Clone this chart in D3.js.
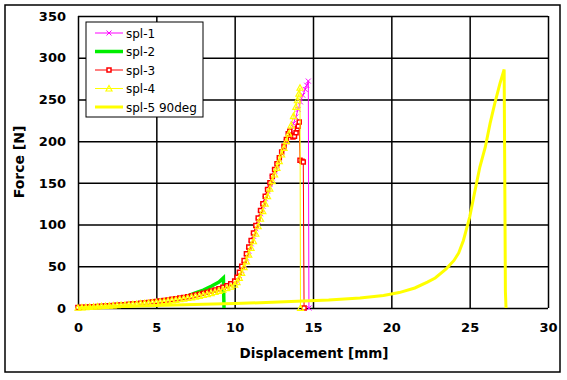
<!DOCTYPE html>
<html>
<head>
<meta charset="utf-8">
<script src="https://cdn.jsdelivr.net/npm/d3@7/dist/d3.min.js"></script>
<style>
  body { margin: 0; background: #fff; }
  svg { display: block; }
</style>
</head>
<body>
<script>
// tick values
var xTicks = [0, 5, 10, 15, 20, 25, 30];
var yTicks = [0, 50, 100, 150, 200, 250, 300, 350];

// series: [displacement mm, force N]
var spl1 = [[0,0.2],[0.25,0.5],[0.5,0.8],[0.75,1.1],[1,1.4],[1.25,1.7],[1.5,2],[1.75,2.3],[2,2.6],[2.25,2.9],
  [2.5,3.2],[2.75,3.5],[3,3.8],[3.25,4.1],[3.5,4.5],[3.75,4.9],[4,5.3],[4.25,5.7],[4.5,6.2],[4.75,6.7],
  [5,7.2],[5.25,7.7],[5.5,8.3],[5.75,8.9],[6,9.5],[6.25,10.2],[6.5,10.9],[6.75,11.7],[7,12.5],[7.25,13.4],
  [7.5,14.3],[7.75,15.3],[8,16.4],[8.25,17.6],[8.5,18.9],[8.75,20.3],[9,21.8],[9.25,23.5],[9.5,25.4],[9.75,27.6],
  [10,30.5],[10.15,34],[10.3,39],[10.45,45],[10.6,52],[10.75,60],[10.9,68],[11.05,77],[11.2,86],[11.35,95],
  [11.5,104],[11.65,113],[11.8,122],[11.95,131],[12.1,140],[12.25,148],[12.4,156],[12.55,164],[12.7,171],[12.85,178],
  [13,185],[13.15,192],[13.3,199],[13.45,206],[13.6,213],[13.75,221],[13.9,229],[14.05,238],[14.2,247],[14.35,255],
  [14.5,262],[14.6,267],[14.7,272],[14.74,0]];

var spl2 = [[0,0.5],[1,1.5],[2,2.5],[3,4],[4,5.5],[5,8.5],[6,10.5],[6.5,11.8],[7,14.5],[7.5,18],
  [8,21.5],[8.5,26],[9,31],[9.28,36],[9.32,0]];

var spl3 = [[0,0.5],[0.25,0.8],[0.5,1],[0.75,1.3],[1,1.6],[1.25,1.9],[1.5,2.2],[1.75,2.5],[2,2.8],[2.25,3.1],
  [2.5,3.4],[2.75,3.7],[3,4],[3.25,4.4],[3.5,4.8],[3.75,5.2],[4,5.7],[4.25,6.1],[4.5,6.6],[4.75,7.1],
  [5,7.7],[5.25,8.3],[5.5,9],[5.75,9.7],[6,10.4],[6.25,11.1],[6.5,11.9],[6.75,12.7],[7,13.6],[7.25,14.5],
  [7.5,15.5],[7.75,16.6],[8,17.8],[8.25,19],[8.5,20.3],[8.75,21.7],[9,23.2],[9.25,24.9],[9.5,26.8],[9.75,29.2],
  [10,32.5],[10.15,37],[10.3,43],[10.45,50],[10.6,57],[10.75,65],[10.9,73],[11.05,81],[11.2,90],[11.35,99],
  [11.5,108],[11.65,117],[11.8,125],[11.95,134],[12.1,142],[12.25,150],[12.4,158],[12.55,166],[12.7,173],[12.85,180],
  [13,187],[13.15,194],[13.3,202],[13.42,209],[13.52,212],[13.62,207],[13.72,205],[13.82,206],[13.92,210],[14,215],
  [14.06,218],[14.12,223],[14.17,177],[14.3,176],[14.38,175],[14.43,0]];

var spl4 = [[0,0.3],[0.25,0.6],[0.5,0.9],[0.75,1.2],[1,1.5],[1.25,1.8],[1.5,2.1],[1.75,2.4],[2,2.7],[2.25,3],
  [2.5,3.3],[2.75,3.6],[3,3.9],[3.25,4.2],[3.5,4.5],[3.75,4.9],[4,5.3],[4.25,5.7],[4.5,6.1],[4.75,6.5],
  [5,7],[5.25,7.5],[5.5,8],[5.75,8.6],[6,9.2],[6.25,9.8],[6.5,10.5],[6.75,11.2],[7,12],[7.25,12.8],
  [7.5,13.7],[7.75,14.6],[8,15.6],[8.25,16.7],[8.5,17.9],[8.75,19.2],[9,20.6],[9.25,22.1],[9.5,23.8],[9.75,25.6],
  [10,28],[10.15,31],[10.3,36],[10.45,42],[10.6,49],[10.75,56],[10.9,64],[11.05,72],[11.2,80],[11.35,89],
  [11.5,98],[11.65,107],[11.8,116],[11.95,125],[12.1,134],[12.25,143],[12.4,152],[12.55,160],[12.7,168],[12.85,176],
  [13,184],[13.15,192],[13.3,200],[13.45,209],[13.6,219],[13.75,230],[13.9,241],[14,249],[14.1,257],[14.17,264],
  [14.2,0]];

var spl5 = [[0,0],[2,1.5],[5,3],[8,4.5],[10,5.5],[12,6.5],[14,8],[16,9.5],[18,12],[19.5,15],
  [20.5,18.5],[21.5,24],[22.3,31],[22.8,36],[23.5,47],[24,57],[24.3,66],[24.6,81],[25,109],[25.3,137],
  [25.65,169],[26,193],[26.3,221],[26.6,245],[26.93,269],[27.2,286],[27.24,160],[27.28,20],[27.32,0]];

var seriesNames = ["spl-1", "spl-2", "spl-3", "spl-4", "spl-5 90deg"];

var width = 567, height = 380;
var svg = d3.select("body").append("svg")
  .attr("width", width).attr("height", height);

svg.append("rect").attr("width", width).attr("height", height).attr("fill", "#fff");
// outer frame
svg.append("rect").attr("x", 5).attr("y", 5).attr("width", 555).attr("height", 367)
  .attr("fill", "none").attr("stroke", "#000").attr("stroke-width", 1.5);

var x = d3.scaleLinear().domain([0, 30]).range([78, 548]);
var y = d3.scaleLinear().domain([0, 350]).range([308, 16]);

// grid + labels
var yAxis = svg.append("g").attr("transform", "translate(" + x(0) + ",0)")
  .call(d3.axisLeft(y).tickValues(yTicks).tickSize(-(x(30) - x(0))).tickPadding(12).tickSizeOuter(0));
var xAxis = svg.append("g").attr("transform", "translate(0," + y(0) + ")")
  .call(d3.axisBottom(x).tickValues(xTicks).tickSize(-(y(0) - y(350))).tickPadding(15).tickSizeOuter(0));

[xAxis, yAxis].forEach(function(a) {
  a.select(".domain").remove();
  a.selectAll(".tick line").attr("stroke", "#000").attr("stroke-width", 1.5);
  a.selectAll(".tick text").attr("fill", "#000")
    .style("font-family", "'DejaVu Sans', sans-serif").style("font-size", "13px").style("font-weight", "bold");
});

svg.append("text").attr("x", 314).attr("y", 358).attr("text-anchor", "middle")
  .style("font-family", "'DejaVu Sans', sans-serif").style("font-size", "13.5px").style("font-weight", "bold")
  .text("Displacement [mm]");
svg.append("text").attr("transform", "translate(24,162) rotate(-90)").attr("text-anchor", "middle")
  .style("font-family", "'DejaVu Sans', sans-serif").style("font-size", "14px").style("font-weight", "bold")
  .text("Force [N]");

var line = d3.line().x(function(d) { return x(d[0]); }).y(function(d) { return y(d[1]); });

var markX = "M-2.5,-2.5L2.5,2.5M-2.5,2.5L2.5,-2.5";
var markSq = "M-2,-2H2V2H-2Z";
var markTri = "M0,-3L3,2.5H-3Z";

var series = [
  { name: seriesNames[0], data: spl1, color: "#ff00ff", width: 1, mark: markX, fill: "none", mw: 1 },
  { name: seriesNames[1], data: spl2, color: "#00ee00", width: 3.5, mark: null },
  { name: seriesNames[2], data: spl3, color: "#ff0000", width: 1, mark: markSq, fill: "#fff", mw: 1.5 },
  { name: seriesNames[3], data: spl4, color: "#ffff00", width: 1, mark: markTri, fill: "none", mw: 1.2 },
  { name: seriesNames[4], data: spl5, color: "#ffff00", width: 3, mark: null }
];

var plot = svg.append("g");
series.forEach(function(s) {
  var g = plot.append("g");
  g.append("path").datum(s.data).attr("d", line)
    .attr("fill", "none").attr("stroke", s.color).attr("stroke-width", s.width);
  if (s.mark) {
    g.selectAll("path.m").data(s.data).enter().append("path").attr("class", "m")
      .attr("d", s.mark)
      .attr("transform", function(d) { return "translate(" + x(d[0]) + "," + y(d[1]) + ")"; })
      .attr("fill", s.fill).attr("stroke", s.color).attr("stroke-width", s.mw);
  }
});

// legend
var lg = svg.append("g");
lg.append("rect").attr("x", 86).attr("y", 22).attr("width", 117).attr("height", 95)
  .attr("fill", "#fff").attr("stroke", "#000").attr("stroke-width", 1);
series.forEach(function(s, i) {
  var ly = 33 + i * 18.5;
  lg.append("line").attr("x1", 95).attr("x2", 123).attr("y1", ly).attr("y2", ly)
    .attr("stroke", s.color).attr("stroke-width", s.width);
  if (s.mark) {
    lg.append("path").attr("d", s.mark).attr("transform", "translate(109," + ly + ")")
      .attr("fill", s.fill).attr("stroke", s.color).attr("stroke-width", s.mw);
  }
  lg.append("text").attr("x", 126).attr("y", ly + 4.5)
    .style("font-family", "'DejaVu Sans', sans-serif").style("font-size", "12px")
    .text(s.name);
});
</script>
</body>
</html>
